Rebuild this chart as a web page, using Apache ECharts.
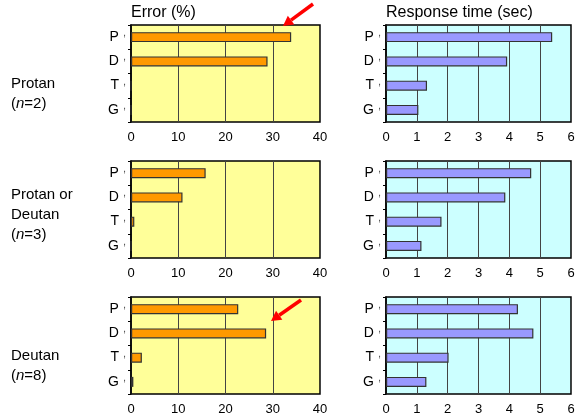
<!DOCTYPE html>
<html>
<head>
<meta charset="utf-8">
<script src="https://cdn.jsdelivr.net/npm/echarts@6/dist/echarts.min.js"></script>
<style>
  html, body { margin: 0; padding: 0; background: #fff; }
  #chart { width: 586px; height: 419px; }
</style>
</head>
<body>
<div id="chart"></div>
<script>
    'use strict';
    // categories, top to bottom
    var categories = ['P', 'D', 'T', 'G'];
    var errorTicks = [0, 10, 20, 30, 40];
    var timeTicks = [0, 1, 2, 3, 4, 5, 6];

    // Error (%)
    var errProtan = [33.9, 28.9, 0, 0];
    var errProtanDeutan = [15.8, 10.9, 0.7, 0];
    var errDeutan = [22.7, 28.6, 2.3, 0.5];

    // Response time (sec)
    var rtProtan = [5.39, 3.93, 1.33, 1.05];
    var rtProtanDeutan = [4.71, 3.87, 1.8, 1.15];
    var rtDeutan = [4.28, 4.78, 2.03, 1.31];

    var rows = [
        {tops: 25, err: errProtan, rt: rtProtan},
        {tops: 161, err: errProtanDeutan, rt: rtProtanDeutan},
        {tops: 297, err: errDeutan, rt: rtDeutan}
    ];

    var FONT = 'Liberation Sans, Arial, sans-serif';
    var grids = [], xAxes = [], yAxes = [], series = [];

    function addPanel (top, left, width, max, interval, bg, barColor, data) {
        var idx = grids.length;
        grids.push({
            left: left, top: top, width: width, height: 97,
            show: true, backgroundColor: bg,
            borderColor: '#000', borderWidth: 1.5
        });
        xAxes.push({
            type: 'value', gridIndex: idx, min: 0, max: max, interval: interval,
            axisLine: {show: false},
            axisTick: {show: false},
            splitLine: {show: true, lineStyle: {color: '#444', width: 1}},
            axisLabel: {color: '#000', fontFamily: FONT, fontSize: 13, margin: 9}
        });
        yAxes.push({
            type: 'category', gridIndex: idx, data: categories, inverse: true,
            axisLine: {show: true, lineStyle: {color: '#000', width: 1.5}},
            axisTick: {show: true, length: 3, lineStyle: {color: '#000'}},
            axisLabel: {
                margin: 5,
                formatter: function (v) { return '{a|' + v + '}{b|,}'; },
                rich: {
                    a: {color: '#000', fontFamily: FONT, fontSize: 14, padding: [0, 4, 0, 0]},
                    b: {color: '#555', fontFamily: FONT, fontSize: 11, padding: [0, 0, 8, 0]}
                }
            }
        });
        series.push({
            type: 'bar', xAxisIndex: idx, yAxisIndex: idx, data: data,
            barWidth: 10, silent: true,
            itemStyle: {color: barColor, borderColor: '#333', borderWidth: 1.2}
        });
    }

    rows.forEach(function (r) {
        addPanel(r.tops, 131, 189, errorTicks[errorTicks.length - 1], 10, '#FFFF99', '#FF9900', r.err);
        addPanel(r.tops, 386, 185, timeTicks[timeTicks.length - 1], 1, '#CCFFFF', '#9999FF', r.rt);
    });

    function arrow (tail, tip) {
        var dx = tip[0] - tail[0], dy = tip[1] - tail[1];
        var len = Math.sqrt(dx * dx + dy * dy);
        var ux = dx / len, uy = dy / len;
        var bx = tip[0] - 10 * ux, by = tip[1] - 10 * uy;
        var nx = -uy, ny = ux;
        return [{
            type: 'line', shape: {x1: tail[0], y1: tail[1], x2: bx, y2: by},
            style: {stroke: '#FF0000', lineWidth: 3.5}, z: 100
        }, {
            type: 'polygon',
            shape: {points: [tip, [bx + 5.5 * nx, by + 5.5 * ny], [bx - 5.5 * nx, by - 5.5 * ny]]},
            style: {fill: '#FF0000'}, z: 100
        }];
    }

    var labels = [
        {text: 'Error (%)', x: 131, y: 13, size: 16},
        {text: 'Response time (sec)', x: 386, y: 13, size: 16},
        {text: 'Protan', x: 11, y: 84},
        {text: '({i|n}=2)', x: 11, y: 104},
        {text: 'Protan or', x: 11, y: 195},
        {text: 'Deutan', x: 11, y: 215},
        {text: '({i|n}=3)', x: 11, y: 235},
        {text: 'Deutan', x: 11, y: 356},
        {text: '({i|n}=8)', x: 11, y: 376}
    ];

    var graphics = labels.map(function (l) {
        var size = l.size || 15;
        return {
            type: 'text', x: l.x, y: l.y,
            style: {
                text: l.text,
                fill: '#000',
                font: size + 'px ' + FONT,
                verticalAlign: 'middle',
                rich: {i: {fontStyle: 'italic', fontSize: size, fontFamily: FONT, fill: '#000'}}
            }
        };
    });
    graphics = graphics.concat(arrow([313, 4], [283, 26]), arrow([301, 300], [271, 321]));

    var chart = echarts.init(document.getElementById('chart'));
    chart.setOption({
        animation: false,
        grid: grids,
        xAxis: xAxes,
        yAxis: yAxes,
        series: series,
        graphic: graphics
    });
</script>
</body>
</html>
